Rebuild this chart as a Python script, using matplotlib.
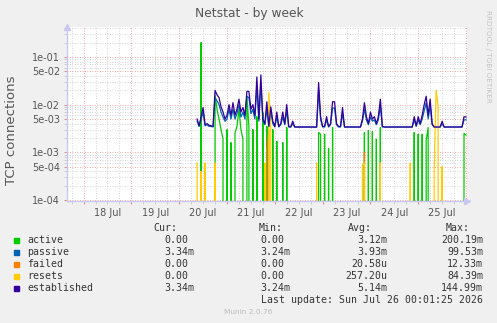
import matplotlib
matplotlib.use("Agg")
import matplotlib.pyplot as plt
import matplotlib.dates as mdates
from matplotlib.patches import Rectangle
from matplotlib.ticker import LogLocator, FuncFormatter, NullFormatter
import numpy as np
import pandas as pd

W, H = 497, 323

# hourly samples from 2026-07-20 09:00, six per line (one line = 6 hours),
# values in milli (x 1e-3)
START = "2026-07-20 09:00"

active = [
    0, 0, 200,
    0, 0, 0, 0, 0, 0,
    16, 8, 5, 3, 1.9, 0,
    3, 0, 1.6, 0, 2.5, 3.5,       # 21 Jul
    8, 3, 1.9, 0, 15, 3.5,
    0, 3, 0, 5.6, 0, 0,
    6.8, 0, 3.5, 0, 0, 3,
    0, 1.7, 0, 0, 1.6, 0,         # 22 Jul
    3.3, 0, 0, 0, 0, 0,
    0, 0, 0, 0, 0, 0,
    0, 0, 0, 0, 2.6, 2.4,
    0, 2.4, 0, 1.2, 0, 3.3,       # 23 Jul
    0, 0, 0, 0, 0, 0,
    0, 0, 0, 0, 0, 0,
    0, 0, 0, 2.6, 0, 2.9,
    0, 2.7, 0, 1.9, 0, 3.3,       # 24 Jul
    0, 0, 0, 0, 0, 0,
    0, 0, 0, 0, 0, 0,
    0, 0, 0, 0, 2.6, 0,
    2.4, 0, 2.4, 0, 1.8, 3.3,     # 25 Jul
    0, 0, 0, 0, 0, 0,
    0, 0, 0, 0, 0, 0,
    0, 0, 0, 0, 0, 2.5,
    2.3,
]

passive = [
    4.5, 3.5, 5,
    7, 3.6, 3.8, 3.5, 3.5, 3.4,
    14, 12, 10, 7, 5.5, 4.5,
    5, 8, 5, 8, 5, 6.5,
    10, 5.5, 7, 5, 15, 14,
    6.5, 8, 5, 25, 4.5, 28,
    4.5, 3.8, 8, 3.4, 7, 4,
    3.4, 5.5, 3.4, 3.8, 5.5, 3.8,
    7.5, 3.4, 3.4, 4, 3.4, 3.4,
    3.4, 3.4, 3.4, 3.4, 3.4, 3.4,
    3.4, 3.4, 3.4, 3.4, 20, 4.8,
    3.4, 3.4, 4.8, 3.4, 3.8, 8.5,
    8.5, 3.8, 3.4, 3.4, 6.5, 3.4,
    3.4, 3.4, 3.4, 3.4, 3.4, 3.4,
    3.4, 3.4, 4.5, 8, 4.8, 3.8,
    5.5, 4.5, 4.8, 3.8, 4.8, 9.5,
    3.4, 3.4, 3.4, 3.4, 3.4, 3.4,
    3.4, 3.4, 3.4, 3.4, 3.4, 3.4,
    3.4, 3.4, 3.4, 3.4, 4.8, 3.5,
    4.8, 3.8, 5, 7.5, 11, 5,
    9.5, 3.8, 3.4, 3.4, 3.4, 3.4,
    4, 3.4, 3.4, 3.4, 3.4, 3.4,
    3.4, 3.4, 3.4, 3.4, 3.4, 4.8,
    4.8,
]

failed = [
    0, 0, 0,
    0, 0, 0, 0, 0, 0,
    0, 0, 0, 0, 0, 0,
    0, 0, 0, 0, 0, 0,
    0, 0, 0, 0, 0, 0,
    0, 0, 0, 0, 0, 0,
    0, 0, 1.1, 3, 0, 0,
    0, 0, 0, 0, 0, 0,
    0, 0, 0, 0, 0, 0,
    0, 0, 0, 0, 0, 0,
    0, 0, 0, 0, 0, 0,
    0, 0, 0, 0, 0, 0,
    0, 0, 0, 0, 0, 0,
    0, 0, 0, 0, 0, 0,
    0, 0, 0, 1.0, 0, 0,
    0, 0, 0, 0, 0, 0,
    0, 0, 0, 0, 0, 0,
    0, 0, 0, 0, 0, 0,
    0, 0, 0, 0, 0, 0,
    0, 0, 0, 0, 0, 0,
    0, 0, 0, 0, 0, 0,
    0, 0, 0, 0, 0, 0,
    0, 0, 0, 0, 0, 0,
    0,
]

resets = [
    0.6, 0, 0.4,
    0, 0.6, 0, 0, 0, 0,
    0.6, 0, 0, 0, 0, 0,
    0, 0, 0, 0, 0, 0,
    0, 0, 0, 0, 0, 0,
    0, 0, 0, 0, 0, 0,
    0, 0.6, 0, 18, 3, 0,
    0, 0, 0, 0, 0, 0,
    0, 0, 0, 0, 0, 0,
    0, 0, 0, 0, 0, 0,
    0, 0, 0, 0.6, 0, 0,
    0, 0, 0, 0, 0, 0,
    0, 0, 0, 0, 0, 0,
    0, 0, 0, 0, 0, 0,
    0, 0, 0.55, 0.6, 0, 0,
    0, 0, 0, 0, 0, 0.6,
    0, 0, 0, 0, 0, 0,
    0, 0, 0, 0, 0, 0,
    0, 0, 0.6, 0, 0, 0,
    0, 0, 0, 0, 0, 0,
    0, 0, 0.4, 20, 9, 0,
    0.5, 0, 0, 0, 0, 0,
    0, 0, 0, 0, 0, 0,
    0,
]

established = [
    5, 3.6, 5.6,
    8.7, 3.8, 4.0, 3.7, 3.6, 3.5,
    20, 16, 14, 9, 7, 5,
    6, 10, 6, 11, 6, 8,
    13, 7, 8.7, 6, 19, 19,
    8, 10, 6, 38, 5, 42,
    5, 4, 11.5, 3.5, 9, 4.5,
    3.5, 7, 3.5, 4, 7, 4,
    10, 3.5, 3.4, 4.5, 3.4, 3.4,
    3.4, 3.4, 3.4, 3.4, 3.4, 3.4,
    3.4, 3.4, 3.4, 3.4, 29, 5.6,
    3.5, 3.5, 5.6, 3.5, 4, 11.5,
    11.5, 4, 3.5, 3.5, 8.7, 3.4,
    3.4, 3.4, 3.4, 3.4, 3.4, 3.4,
    3.4, 3.4, 5, 11, 5.6, 4,
    7, 5, 5.6, 4, 5.6, 13,
    3.5, 3.4, 3.4, 3.4, 3.4, 3.4,
    3.4, 3.4, 3.4, 3.4, 3.4, 3.4,
    3.4, 3.4, 3.4, 3.4, 5.6, 3.6,
    5.6, 4, 6, 10, 15, 6,
    13, 4, 3.4, 3.4, 3.4, 3.4,
    4.5, 3.4, 3.4, 3.4, 3.4, 3.4,
    3.4, 3.4, 3.4, 3.4, 3.4, 5.6,
    5.5,
]

names = ["active", "passive", "failed", "resets", "established"]
colors = ["#00CC00", "#0066B3", "#FF8000", "#FFCC00", "#330099"]
cur_vals = ["0.00", "3.34m", "0.00", "0.00", "3.34m"]
min_vals = ["0.00", "3.24m", "0.00", "0.00", "3.24m"]
avg_vals = ["3.12m", "3.93m", "20.58u", "257.20u", "5.14m"]
max_vals = ["200.19m", "99.53m", "12.33m", "84.39m", "144.99m"]


def fx(x):
    return x / W


def fy(y):
    return 1 - y / H


series = [active, passive, failed, resets, established]
times = pd.date_range(START, periods=len(established), freq="h")

fig = plt.figure(figsize=(W / 100, H / 100), dpi=100, facecolor="#F0F0F0")
ax = fig.add_axes([fx(67), fy(201), 400 / W, 174 / H])
ax.set_facecolor("white")

for vals, c in zip(series, colors):
    ax.plot(times, np.array(vals) * 1e-3, color=c, lw=0.9)

ax.set_yscale("log", nonpositive="clip")
ax.set_ylim(10 ** -4.02, 10 ** -0.372)
ax.set_xlim(pd.Timestamp("2026-07-17 15:40"), pd.Timestamp("2026-07-26 00:30"))

ax.yaxis.set_major_locator(LogLocator(base=10, subs=(1.0, 5.0)))
ax.yaxis.set_minor_locator(LogLocator(base=10, subs=(2.0, 3.0, 4.0, 6.0, 7.0, 8.0, 9.0)))
ax.yaxis.set_major_formatter(FuncFormatter(lambda v, p: "%.0e" % v))
ax.yaxis.set_minor_formatter(NullFormatter())

ax.xaxis.set_major_locator(mdates.DayLocator())
ax.xaxis.set_major_formatter(NullFormatter())
ax.xaxis.set_minor_locator(mdates.HourLocator(byhour=[6, 12, 18]))


def day_label(v, p):
    d = mdates.num2date(v)
    return d.strftime("%d %b") if d.hour == 12 else ""


ax.xaxis.set_minor_formatter(FuncFormatter(day_label))

ax.set_axisbelow(True)
ax.grid(which="major", color="#E89090", linestyle=(0, (1, 2)), lw=0.6)
ax.grid(which="minor", color="#C8C8C8", linestyle=(0, (1, 2)), lw=0.6)

for s in ["top", "right"]:
    ax.spines[s].set_visible(False)
for s in ["left", "bottom"]:
    ax.spines[s].set_color("#C8C8F0")
    ax.spines[s].set_linewidth(1.0)

ax.tick_params(which="major", length=2, color="#E89090", labelsize=7, labelcolor="#555555", pad=3)
ax.tick_params(which="minor", length=2, color="#C8C8C8", labelsize=7, labelcolor="#555555", pad=3)

ax.plot([0], [1.0], marker="^", ms=4, color="#C8C8F0", transform=ax.transAxes, clip_on=False)
ax.plot([1.0], [0], marker=">", ms=4, color="#C8C8F0", transform=ax.transAxes, clip_on=False)

fig.text(fx(249), fy(14), "Netstat - by week", ha="center", va="center", fontsize=8.8, color="#555555")
fig.text(fx(12), fy(130), "TCP connections", ha="center", va="center", rotation=90,
         fontsize=9.5, color="#555555")
fig.text(fx(488), fy(56), "RRDTOOL / TOBI OETIKER", ha="center", va="center", rotation=270,
         fontsize=5.2, color="#C4C4C4")

mono = dict(family="DejaVu Sans Mono", fontsize=7.15, color="#333333", va="center")
cw = 5.97

fig.text(fx(177), fy(228), "Cur:", ha="right", **mono)
fig.text(fx(283), fy(228), "Min:", ha="right", **mono)
fig.text(fx(372), fy(228), "Avg:", ha="right", **mono)
fig.text(fx(470), fy(228), "Max:", ha="right", **mono)


def right_x(end, s):
    return end if s[-1].isalpha() else end - cw


for i, name in enumerate(names):
    y = 240 + i * 12
    fig.add_artist(Rectangle((fx(14), fy(y + 2.5)), 5 / W, 5 / H, color=colors[i],
                             transform=fig.transFigure))
    fig.text(fx(27), fy(y), name, ha="left", **mono)
    fig.text(fx(right_x(194, cur_vals[i])), fy(y), cur_vals[i], ha="right", **mono)
    fig.text(fx(right_x(290, min_vals[i])), fy(y), min_vals[i], ha="right", **mono)
    fig.text(fx(right_x(387, avg_vals[i])), fy(y), avg_vals[i], ha="right", **mono)
    fig.text(fx(right_x(483, max_vals[i])), fy(y), max_vals[i], ha="right", **mono)

fig.text(fx(483), fy(300), "Last update: Sun Jul 26 00:01:25 2026", ha="right", **mono)
fig.text(fx(248), fy(312), "Munin 2.0.76", ha="center", va="center", fontsize=5.3, color="#BBBBBB")

fig.savefig("out.png", dpi=100, facecolor=fig.get_facecolor())
